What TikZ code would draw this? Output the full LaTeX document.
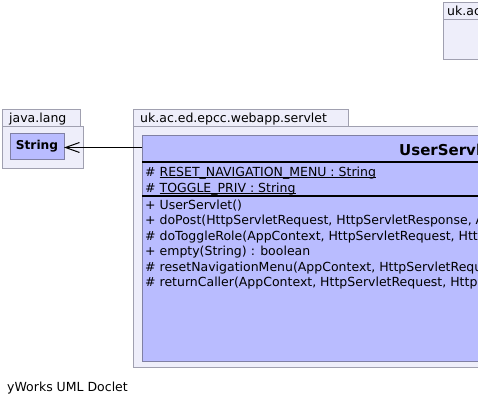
\documentclass[tikz,border=0pt]{standalone}
\usepackage{fontspec}
\setmainfont{DejaVu Sans}
\usetikzlibrary{arrows.meta}
\definecolor{pkgfill}{RGB}{238,238,250}
\definecolor{pkgdraw}{RGB}{160,160,176}
\definecolor{clsfill}{RGB}{185,188,255}
\definecolor{clsdraw}{RGB}{128,128,164}
\newcommand\myul[1]{\setbox0\hbox{#1}\rlap{\rule[-2.4pt]{\wd0}{1pt}}\box0}
\tikzset{
  pkg/.style={draw=pkgdraw, fill=pkgfill, line width=1pt, inner sep=0pt, outer sep=0pt, anchor=north west},
  clsbox/.style={draw=clsdraw, fill=clsfill, line width=1pt, inner sep=0pt, outer sep=0pt, anchor=north west},
  txt/.style={anchor=base west, inner sep=0pt, font=\fontsize{12.5}{14}\selectfont},
  btxt/.style={inner sep=0pt, font=\fontsize{12.2}{14}\selectfont\bfseries},
}
\begin{document}
\begin{tikzpicture}[x=1pt,y=-1pt]
\useasboundingbox (0,0) rectangle (478,406);
\clip (0,0) rectangle (478,406);
\fill[white] (0,0) rectangle (478,406);

% top-right package
\node[pkg, minimum width=120, minimum height=17] (ttab) at (443,3) {};
\node[pkg, minimum width=120, minimum height=40] (tbody) at (443,20) {};
\node[txt] (tlabel) at (447,15.5) {uk.ac.ed.epcc.webapp};

% java.lang package
\node[pkg, minimum width=78, minimum height=17] (jtab) at (2,110) {};
\node[pkg, minimum width=81, minimum height=41] (jbody) at (2,127) {};
\node[txt] (jlabel) at (9,123) {java.lang};
\node[clsbox, minimum width=54, minimum height=25] (str) at (10,134) {};
\node[btxt] (strlabel) at (str.center) {String};

% servlet package
\node[pkg, minimum width=215, minimum height=17] (stab) at (133,110) {};
\node[pkg, minimum width=400, minimum height=240] (sbody) at (133,127) {};
\node[txt] (slabel) at (140,123) {uk.ac.ed.epcc.webapp.servlet};

% class
\node[clsbox, minimum width=400, minimum height=225] (cls) at (142,136) {};
\node[anchor=base west, inner sep=0pt, font=\fontsize{15}{17}\selectfont\bfseries] (clsname) at (399,155) {UserServlet};
\draw[black, line width=1.3pt] (142,162) -- (478,162);
\draw[black, line width=2pt] (142,196) -- (478,196);

\node[txt] (a1) at (145,176) {\# \myul{RESET\_NAVIGATION\_MENU : String}};
\node[txt] (a2) at (145,192) {\# \myul{TOGGLE\_PRIV : String}};

\node[txt] (o1) at (145,209) {+ UserServlet()};
\node[txt] (o2) at (145,224.5) {+ doPost(HttpServletRequest, HttpServletResponse, AppContext)};
\node[txt] (o3) at (145,240) {\# doToggleRole(AppContext, HttpServletRequest, HttpServletResponse)};
\node[txt] (o4) at (145,255.5) {+ empty(String) : boolean};
\node[txt] (o5) at (145,271) {\# resetNavigationMenu(AppContext, HttpServletRequest, HttpServletResponse)};
\node[txt] (o6) at (145,286.5) {\# returnCaller(AppContext, HttpServletRequest, HttpServletResponse)};

% dependency arrow
\draw[line width=1pt, -{Straight Barb[length=14pt, width=10pt, line width=1pt]}] (cls.west |- 0,147.5) -- (str.east |- 0,147.5);

\node[txt] (footer) at (7,391) {yWorks UML Doclet};
\end{tikzpicture}
\end{document}
